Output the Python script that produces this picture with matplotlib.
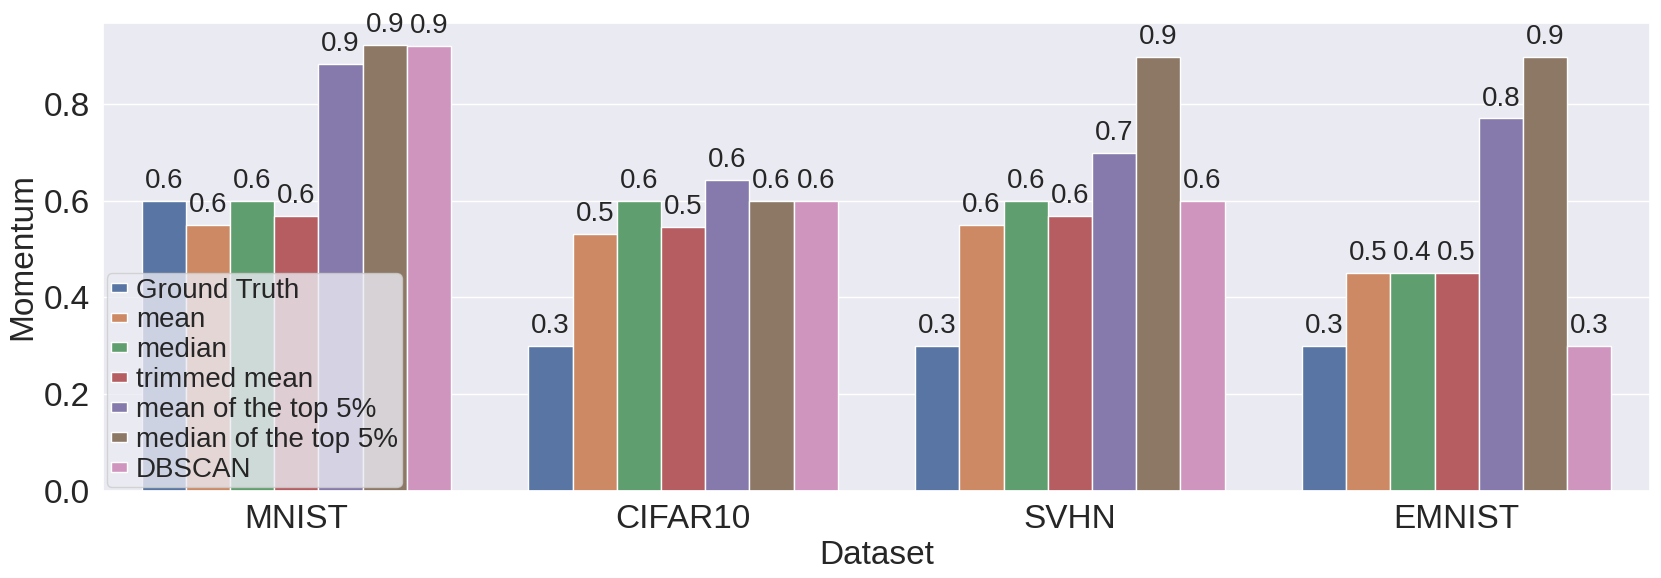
import numpy as np
import matplotlib
matplotlib.use("Agg")
import matplotlib.pyplot as plt
import seaborn as sns

datasets = ["MNIST", "CIFAR10", "SVHN", "EMNIST"]
methods = ["Ground Truth", "mean", "median", "trimmed mean",
           "mean of the top 5%", "median of the top 5%", "DBSCAN"]

# momentum per method, one value per dataset
ground_truth = [0.6, 0.3, 0.3, 0.3]
mean_vals = [0.55, 0.531, 0.55, 0.45]
median_vals = [0.6, 0.6, 0.6, 0.4499]
trimmed_mean = [0.568, 0.545, 0.568, 0.45]
top5_mean = [0.882, 0.643, 0.699, 0.770]
top5_median = [0.922, 0.6, 0.897, 0.897]
dbscan = [0.920, 0.6, 0.6, 0.3]

series = [ground_truth, mean_vals, median_vals, trimmed_mean,
          top5_mean, top5_median, dbscan]

sns.set_theme(style="darkgrid", font_scale=2)
plt.rcParams["font.family"] = ["Liberation Sans", "DejaVu Sans"]

fig, ax = plt.subplots(figsize=(16.61, 5.78), dpi=100)
colors = sns.color_palette("deep", desat=0.75)

x = np.arange(len(datasets))
n = len(methods)
w = 0.8 / n
for i, (name, vals) in enumerate(zip(methods, series)):
    offs = (i - (n - 1) / 2) * w
    bars = ax.bar(x + offs, vals, width=w, color=colors[i], label=name,
                  edgecolor="white", linewidth=1)
    ax.bar_label(bars, fmt="%.1f", padding=5, fontsize=20)

ax.set_xlim(-0.5, len(datasets) - 0.5)
ax.set_xticks(x)
ax.set_xticklabels(datasets)
ax.tick_params(labelsize=24)
ax.xaxis.grid(False)
ax.set_xlabel("Dataset", fontsize=24)
ax.set_ylabel("Momentum", fontsize=24)

ax.legend(loc="lower left", fontsize=20, handlelength=0.6, handleheight=0.16,
          labelspacing=0.14, handletextpad=0.3, borderpad=0.15,
          borderaxespad=0.13)

plt.subplots_adjust(left=0.062, right=0.9934, top=0.9607, bottom=0.151)
plt.savefig("out.png", dpi=100)
plt.close()
